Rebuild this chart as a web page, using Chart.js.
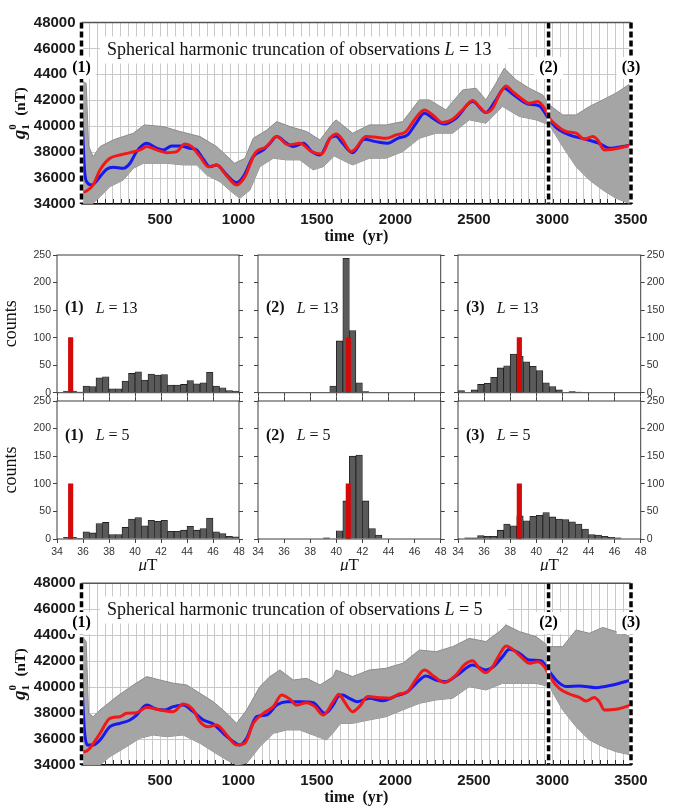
<!DOCTYPE html>
<html><head><meta charset="utf-8">
<script src="https://cdn.jsdelivr.net/npm/chart.js@4.4.1/dist/chart.umd.min.js"></script>
<style>
html,body{margin:0;padding:0;background:#fff;}
body{width:676px;height:808px;position:relative;overflow:hidden;}
canvas{position:absolute;}
</style></head><body>
<script>
// ---------------- DATA ----------------
const eventTimes = [0, 2975, 3500];
const eventLabels = ['(1)', '(2)', '(3)'];
const truncations = ['13', '5'];

// L = 13 time series  [year, nT]
const blueL13 = [[0,41600],[8,39500],[20,36500],[37,35650],[65,35470],[118,36110],[160,36680],[203,36830],[266,36750],[309,37140],[351,38040],[415,38680],[479,38300],[521,38170],[574,38480],[627,38480],[691,38300],[733,38170],[776,37450],[818,36880],[861,37010],[925,36240],[988,35650],[1031,36110],[1094,37660],[1158,38170],[1200,38680],[1243,39200],[1307,38680],[1349,38430],[1413,38680],[1466,38040],[1519,37780],[1583,39070],[1621,39250],[1663,38680],[1727,37960],[1801,38990],[1876,38810],[1950,38680],[2014,39070],[2077,39330],[2131,40230],[2184,41000],[2247,40540],[2311,40180],[2385,40620],[2491,41900],[2576,41050],[2640,42030],[2693,42930],[2746,42490],[2842,41720],[2916,41570],[2980,40490],[3022,39920],[3107,39330],[3213,38990],[3298,38680],[3362,38300],[3447,38430],[3500,38560]];
const redL13 = [[0,34900],[32,35000],[74,35470],[118,36630],[181,37530],[245,37780],[309,37960],[373,38170],[415,38430],[479,38170],[542,37960],[606,38040],[659,38630],[702,38430],[755,37660],[808,36880],[861,37010],[925,36160],[988,35470],[1041,36110],[1105,37910],[1179,38430],[1243,39200],[1317,38560],[1391,38680],[1466,38040],[1529,37860],[1583,39070],[1625,39400],[1663,38940],[1717,38040],[1738,38170],[1812,39200],[1876,39150],[1939,39070],[2003,39330],[2067,39590],[2120,40490],[2184,41260],[2237,40870],[2300,40280],[2364,40540],[2428,41260],[2491,41980],[2534,41520],[2576,41050],[2619,41390],[2661,42420],[2704,43110],[2746,42670],[2799,42160],[2852,41770],[2905,41900],[2948,41390],[2980,40620],[3022,40100],[3086,39590],[3150,39460],[3203,38990],[3256,39200],[3288,38940],[3330,38170],[3383,38220],[3447,38380],[3500,38560]];
const ensUpperL13 = [[0,43500],[30,43300],[45,38500],[74,37650],[118,38430],[203,38950],[330,39460],[400,40100],[521,39970],[627,39590],[755,39200],[861,38430],[975,37140],[1041,37530],[1094,39070],[1180,39700],[1243,40360],[1328,39970],[1434,39590],[1519,38940],[1600,40230],[1621,40490],[1727,39460],[1833,40100],[1939,40100],[2046,40360],[2152,42030],[2216,42030],[2321,41260],[2428,42800],[2513,42930],[2576,42030],[2640,43320],[2693,44480],[2767,43580],[2852,42930],[2937,42420],[2980,41640],[3065,40870],[3150,40870],[3235,41520],[3320,42030],[3404,42550],[3500,43320]];
const ensLowerL13 = [[0,34000],[74,34050],[118,34560],[181,35340],[266,35850],[330,36750],[394,37140],[542,37140],[648,37010],[733,37010],[797,36240],[882,35720],[967,34820],[1009,34440],[1073,35080],[1136,36880],[1222,37530],[1307,37400],[1391,37400],[1476,36630],[1540,36880],[1610,37700],[1727,37010],[1833,37530],[1939,37530],[2046,38040],[2152,39070],[2258,39460],[2364,39460],[2470,40490],[2576,40230],[2682,41520],[2789,40750],[2895,40490],[2980,40100],[3065,38430],[3150,36880],[3235,35850],[3320,35080],[3404,34440],[3500,34000]];

// L = 5 time series  [year, nT]
const blueL5 = [[0,41580],[8,39000],[20,36500],[37,35540],[74,35540],[118,35930],[181,36950],[245,37210],[309,37470],[351,37850],[415,38620],[479,38290],[532,38240],[585,38500],[648,38620],[712,38110],[776,37470],[839,37160],[903,36440],[967,35800],[1009,35540],[1052,36060],[1115,37720],[1179,37850],[1243,38620],[1307,38880],[1391,38880],[1476,38800],[1550,37980],[1603,38620],[1635,39300],[1663,39390],[1706,39140],[1759,38880],[1833,39140],[1918,38960],[2003,39320],[2077,39650],[2131,40290],[2194,40860],[2258,40550],[2321,40420],[2407,41060],[2491,41710],[2576,41320],[2619,41530],[2682,42350],[2725,42910],[2789,42610],[2852,42090],[2927,42040],[2980,41190],[3022,40550],[3086,40040],[3171,40090],[3277,39960],[3383,40170],[3500,40550]];
const redL5 = [[0,34950],[43,35160],[118,36440],[181,37600],[245,37720],[287,37980],[351,38030],[415,38440],[500,38240],[585,38110],[648,38700],[712,38240],[755,37340],[808,36950],[861,37080],[925,36310],[988,35540],[1041,35670],[1094,37210],[1158,37980],[1222,38500],[1275,39390],[1328,39060],[1370,38620],[1434,38800],[1487,38500],[1540,37850],[1603,38880],[1640,39450],[1674,38880],[1727,38110],[1770,38500],[1823,39270],[1897,39190],[1961,39140],[2024,39470],[2077,39650],[2131,40600],[2184,41320],[2247,40810],[2311,40350],[2385,40930],[2438,41710],[2491,42040],[2534,41450],[2576,41120],[2619,41580],[2661,42480],[2704,43170],[2746,42910],[2810,42220],[2852,41840],[2905,41960],[2948,41580],[2990,40680],[3043,39910],[3107,39470],[3171,39210],[3213,38930],[3266,39210],[3298,38880],[3330,38240],[3404,38290],[3500,38620]];
const ensUpperL5 = [[0,44000],[30,43500],[45,38000],[74,37720],[118,38240],[224,39270],[330,40170],[415,40810],[500,40550],[585,40300],[670,40170],[755,39520],[839,38880],[925,37980],[988,37210],[1052,38240],[1136,40040],[1200,40810],[1264,41320],[1349,40550],[1434,40680],[1519,40170],[1603,40810],[1621,41320],[1727,40810],[1833,41320],[1939,41450],[2046,41840],[2152,42860],[2258,42730],[2364,43120],[2470,43760],[2576,43510],[2661,44280],[2704,44790],[2789,44280],[2895,43890],[2980,43120],[3065,43120],[3150,44400],[3235,44150],[3320,44600],[3426,44200],[3500,43890]];
const ensLowerL5 = [[0,34000],[118,34000],[181,34640],[287,35410],[372,36060],[457,36310],[542,36180],[648,36310],[755,35670],[839,35030],[925,34390],[988,34000],[1052,34130],[1136,35410],[1222,36440],[1307,36700],[1391,36700],[1476,36310],[1561,35930],[1600,36440],[1650,37200],[1727,37210],[1833,37470],[1939,37720],[2046,38240],[2152,38750],[2258,39010],[2364,39140],[2470,40040],[2576,39780],[2682,40290],[2789,40290],[2895,40290],[2980,40040],[3065,38240],[3150,36950],[3235,35930],[3320,35410],[3404,35030],[3500,34770]];

// histograms: bin centres (μT) and counts
const binCenters = [34.25,34.75,35.25,35.75,36.25,36.75,37.25,37.75,38.25,38.75,39.25,39.75,40.25,40.75,41.25,41.75,42.25,42.75,43.25,43.75,44.25,44.75,45.25,45.75,46.25,46.75,47.25,47.75];
const counts1L13 = [0,3,3,1,12,11,27,29,7,7,21,35,38,23,34,32,33,14,14,15,22,16,18,37,12,9,4,3];
const counts2L13 = [0,0,0,0,0,0,0,0,0,0,0,12,94,244,113,18,2,0,0,0,0,0,0,0,0,0,0,0];
const counts3L13 = [4,0,5,15,17,28,45,49,70,66,56,48,40,18,11,5,0,2,1,0,0,0,0,0,0,0,0,0];
const counts1L5 = [0,3,3,1,13,11,28,30,8,8,21,36,39,24,34,32,34,14,14,16,23,16,19,38,13,10,5,4];
const counts2L5 = [0,0,0,0,0,0,0,0,0,0,2,0,15,69,150,152,69,19,7,0,0,0,0,0,0,0,0,0];
const counts3L5 = [0,2,2,6,5,5,16,27,24,42,33,41,43,48,40,36,35,31,27,18,8,7,5,3,2,0,0,0];
const truthValues = [35.05, 40.92, 38.7];
const truthHeight = 100;

// ---------------- STYLE / HELPERS ----------------
const SANS = '"Liberation Sans", Arial, sans-serif';
const SERIF = '"Liberation Serif", "Times New Roman", serif';
const minorStep = 50;

function pts(a){ return a.map(p => ({x:p[0], y:p[1]})); }
function mk(left, top, w, h){
  const c = document.createElement('canvas');
  c.width = w; c.height = h;
  c.style.left = left + 'px'; c.style.top = top + 'px';
  c.style.width = w + 'px'; c.style.height = h + 'px';
  document.body.appendChild(c);
  return c;
}
function drawRich(ctx, parts, x, y, align){
  let w = 0;
  parts.forEach(p => { ctx.font = p.font; p.w = ctx.measureText(p.t).width; w += p.w; });
  let cx = align === 'center' ? x - w/2 : x;
  ctx.textAlign = 'left';
  parts.forEach(p => { ctx.font = p.font; ctx.fillText(p.t, cx, y); cx += p.w; });
  return w;
}

// ---------------- TIME SERIES PANELS ----------------
function timeDecor(cfg){
  return {
    id: 'timeDecor',
    beforeDatasetsDraw(chart){
      const {ctx, chartArea:a, scales:{x}} = chart;
      ctx.save(); ctx.strokeStyle = '#333'; ctx.lineWidth = 1;
      for (let t = minorStep; t < x.max; t += minorStep){
        const px = Math.round(x.getPixelForValue(t)) + 0.5;
        ctx.beginPath(); ctx.moveTo(px, a.bottom); ctx.lineTo(px, a.bottom - 5); ctx.stroke();
      }
      ctx.restore();
    },
    afterDatasetsDraw(chart){
      const {ctx, chartArea:a, scales:{x}} = chart;
      ctx.save();
      ctx.strokeStyle = '#555'; ctx.lineWidth = 1.5;
      ctx.beginPath(); ctx.moveTo(a.left, a.top); ctx.lineTo(a.right, a.top); ctx.stroke();
      // event markers
      eventTimes.forEach(t => {
        const px = x.getPixelForValue(t);
        ctx.lineWidth = 3.5;
        ctx.setLineDash([]); ctx.strokeStyle = '#fff';
        ctx.beginPath(); ctx.moveTo(px, a.top); ctx.lineTo(px, a.bottom); ctx.stroke();
        ctx.setLineDash([6,3]); ctx.strokeStyle = '#000';
        ctx.beginPath(); ctx.moveTo(px, a.top); ctx.lineTo(px, a.bottom); ctx.stroke();
      });
      ctx.setLineDash([]);
      // title box
      ctx.fillStyle = '#fff';
      ctx.fillRect(100, cfg.titleY - 13.5, 408, 27);
      ctx.fillStyle = '#111'; ctx.textBaseline = 'middle';
      drawRich(ctx, [
        {t:'Spherical harmonic truncation of observations ', font:`18px ${SERIF}`},
        {t:'L', font:`italic 18px ${SERIF}`},
        {t:' = ' + cfg.L, font:`18px ${SERIF}`}
      ], 107, cfg.titleY, 'left');
      // event labels
      ctx.font = `bold 16px ${SERIF}`;
      eventTimes.forEach((t, i) => {
        const px = x.getPixelForValue(t);
        const w = ctx.measureText(eventLabels[i]).width;
        ctx.fillStyle = '#fff';
        ctx.fillRect(px - w/2 - 5, cfg.labelY - 11, w + 10, 22);
        ctx.fillStyle = '#000'; ctx.textAlign = 'center';
        ctx.fillText(eventLabels[i], px, cfg.labelY);
      });
      // x title
      ctx.font = `bold 16px ${SERIF}`; ctx.textAlign = 'center'; ctx.fillStyle = '#111';
      ctx.fillText('time  (yr)', (a.left + a.right)/2, cfg.xTitleY);
      // y title  g_1^0 (nT)
      ctx.translate(20, (a.top + a.bottom)/2);
      ctx.rotate(-Math.PI/2);
      ctx.textBaseline = 'alphabetic'; ctx.textAlign = 'left';
      const fG = `italic bold 19px ${SERIF}`, fS = `bold 11px ${SERIF}`, fU = `bold 15px ${SERIF}`;
      ctx.font = fG; const wg = ctx.measureText('g').width;
      ctx.font = fS; const ws = ctx.measureText('0').width + 1;
      ctx.font = fU; const wu = ctx.measureText('  (nT)').width;
      let xx = -(wg + ws + wu)/2; const base = 5;
      ctx.font = fG; ctx.fillText('g', xx, base); xx += wg;
      ctx.font = fS; ctx.fillText('0', xx, base - 9); ctx.fillText('1', xx, base + 4); xx += ws;
      ctx.font = fU; ctx.fillText('  (nT)', xx, base);
      ctx.restore();
    }
  };
}

function timeChart(canvas, cfg){
  return new Chart(canvas, {
    type: 'line',
    data: { datasets: [
      {data: pts(cfg.red), borderColor:'#f01818', borderWidth:3, pointRadius:0, cubicInterpolationMode:'monotone', fill:false},
      {data: pts(cfg.blue), borderColor:'#1818f0', borderWidth:3, pointRadius:0, cubicInterpolationMode:'monotone', fill:false},
      {data: pts(cfg.up), borderColor:'#8c8c8c', borderWidth:1, backgroundColor:'#a5a5a5', pointRadius:0, tension:0, fill:'+1'},
      {data: pts(cfg.lo), borderColor:'#8c8c8c', borderWidth:1, pointRadius:0, tension:0, fill:false}
    ]},
    options: {
      responsive:false, animation:false, events:[],
      plugins:{legend:{display:false}, tooltip:{enabled:false}},
      layout:{padding:{top:cfg.padTop, right:45, left:0, bottom:0}},
      scales:{
        x:{type:'linear', min:0, max:3500,
           afterFit:s => { s.height = cfg.xh; },
           ticks:{stepSize:50, autoSkip:false, maxRotation:0, padding:7, color:'#1a1a1a',
                  font:{family:SANS, size:15, weight:'bold'},
                  callback:v => (v > 0 && v % 500 === 0) ? String(v) : ''},
           grid:{color:'#c9c9c9', drawTicks:false},
           border:{display:true, color:'#000', width:1.5}},
        y:{type:'linear', min:34000, max:48000,
           afterFit:s => { s.width = 81.5; },
           ticks:{stepSize:2000, padding:6, color:'#1a1a1a', font:{family:SANS, size:15, weight:'bold'},
                  callback:v => String(v)},
           grid:{color:'#c9c9c9', drawTicks:false},
           border:{display:false}}
      }
    },
    plugins:[timeDecor(cfg)]
  });
}

timeChart(mk(0, 0, 676, 250), {red:redL13, blue:blueL13, up:ensUpperL13, lo:ensLowerL13,
  L:truncations[0], padTop:22.5, xh:46, titleY:50, labelY:68, xTitleY:237});
timeChart(mk(0, 560, 676, 248), {red:redL5, blue:blueL5, up:ensUpperL5, lo:ensLowerL5,
  L:truncations[1], padTop:23.3, xh:43, titleY:50, labelY:63, xTitleY:238});

// ---------------- HISTOGRAMS ----------------
const cols = [{l:57.3, r:239.3}, {l:258.3, r:441}, {l:458.3, r:641}];
const rows = [{t:255, b:392.7, labelDy:53.3}, {t:401, b:539, labelDy:34.7}];

function histDecor(cfg){
  return {
    id:'histDecor',
    afterDatasetsDraw(chart){
      const {ctx, chartArea:a} = chart;
      ctx.save();
      ctx.strokeStyle = '#3c3c3c'; ctx.lineWidth = 1;
      ctx.strokeRect(a.left, a.top, a.right - a.left, a.bottom - a.top);
      ctx.fillStyle = '#111'; ctx.textBaseline = 'middle';
      drawRich(ctx, [
        {t:eventLabels[cfg.col], font:`bold 16px ${SERIF}`},
        {t:'   ', font:`16px ${SERIF}`},
        {t:'L', font:`italic 16px ${SERIF}`},
        {t:' = ' + truncations[cfg.row], font:`16px ${SERIF}`}
      ], a.left + 8, a.top + rows[cfg.row].labelDy, 'left');
      if (cfg.col === 0){
        ctx.save();
        ctx.translate(12 - cfg.cx, (a.top + a.bottom)/2);
        ctx.rotate(-Math.PI/2);
        ctx.font = `18px ${SERIF}`; ctx.textAlign = 'center';
        ctx.fillText('counts', 0, 0);
        ctx.restore();
      }
      if (cfg.row === 1){
        ctx.textBaseline = 'middle';
        drawRich(ctx, [
          {t:'\u03bc', font:`italic 17px ${SERIF}`},
          {t:'T', font:`17px ${SERIF}`}
        ], (a.left + a.right)/2, 566 - cfg.cy, 'center');
      }
      ctx.restore();
    }
  };
}

function histChart(col, row, counts){
  const c = cols[col], r = rows[row];
  const cx = c.l - 57, cy = r.t - 12;
  const cw = Math.round(c.r - c.l + 57 + 35), ch = Math.round(r.b - r.t + 12 + 32);
  const leftW = c.l - cx, rightW = cx + cw - c.r, bottomH = cy + ch - r.b, topH = r.t - cy;
  const tickFont = {family:SANS, size:10.5};
  const gridT = {display:true, drawOnChartArea:false, drawTicks:true, tickLength:4, color:'#444', offset:false};
  const scales = {
    x:{type:'linear', position:'bottom', min:34, max:48, offset:false,
       afterFit:s => { s.height = bottomH; },
       ticks:{display:row === 1, stepSize:2, autoSkip:false, maxRotation:0, padding:3, color:'#333', font:tickFont},
       grid:gridT, border:{display:false}},
    xr:{type:'linear', min:34, max:48, display:false, offset:false},
    y:{type:'linear', position:'left', min:0, max:250,
       afterFit:s => { s.width = leftW; },
       ticks:{display:col === 0, stepSize:50, padding:2, color:'#333', font:tickFont},
       grid:gridT, border:{display:false}},
    y2:{type:'linear', position:'right', min:0, max:250,
       afterFit:s => { s.width = rightW; },
       ticks:{display:col === 2, stepSize:50, padding:2, color:'#333', font:tickFont},
       grid:gridT, border:{display:false}}
  };
  let padTop = topH;
  if (row === 1){
    scales.xt = {type:'linear', position:'top', min:34, max:48, offset:false,
       afterFit:s => { s.height = topH; },
       ticks:{display:false, stepSize:2}, grid:gridT, border:{display:false}};
    padTop = 0;
  }
  const grayData = [];
  binCenters.forEach((b, i) => { if (counts[i] > 0) grayData.push({x:b, y:counts[i]}); });
  new Chart(mk(cx, cy, cw, ch), {
    type:'bar',
    data:{datasets:[
      {data:[{x:truthValues[col], y:truthHeight}], xAxisID:'xr', backgroundColor:'#d40a0a', borderWidth:0, barThickness:4.5, grouped:false},
      {data:grayData, xAxisID:'x', backgroundColor:'#5a5a5a', borderColor:'#1c1c1c', borderWidth:0.8, barPercentage:1, categoryPercentage:1, grouped:false}
    ]},
    options:{
      responsive:false, animation:false, events:[],
      plugins:{legend:{display:false}, tooltip:{enabled:false}},
      layout:{padding:{top:padTop, left:0, right:0, bottom:0}},
      scales
    },
    plugins:[histDecor({col, row, cx, cy})]
  });
}

histChart(0, 0, counts1L13);
histChart(1, 0, counts2L13);
histChart(2, 0, counts3L13);
histChart(0, 1, counts1L5);
histChart(1, 1, counts2L5);
histChart(2, 1, counts3L5);
</script>
</body></html>
